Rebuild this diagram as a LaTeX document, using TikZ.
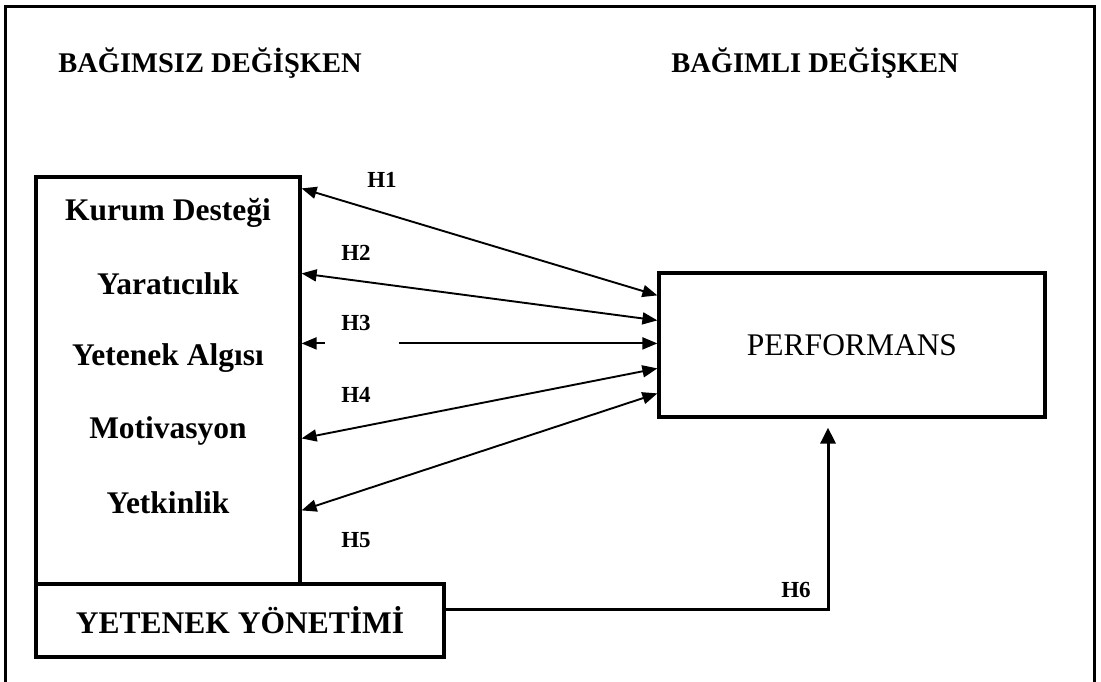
\documentclass[tikz,border=0pt]{standalone}
\usepackage{fontspec}
\setmainfont{Liberation Serif}
\usetikzlibrary{arrows.meta}
\begin{document}
\begin{tikzpicture}[x=1pt,y=-1pt,
  frame/.style={line width=3.2pt},
  box/.style={draw,line width=3.2pt,inner sep=0pt},
  varname/.style={font=\fontsize{31.5}{36}\selectfont\bfseries},
  heading/.style={font=\fontsize{28.5}{34}\selectfont\bfseries},
  hyp/.style={font=\fontsize{23}{28}\selectfont\bfseries},
  link/.style={line width=1.9pt,{Triangle[length=15pt,width=12pt]}-{Triangle[length=15pt,width=12pt]}},
  oneway/.style={line width=1.9pt,-{Triangle[length=15pt,width=12pt]}},
  effect/.style={line width=3pt,-{Triangle[length=16pt,width=15pt]}}]
\useasboundingbox (0,0) rectangle (1101,682);
\fill[white] (0,0) rectangle (1101,682);
% outer frame (open at the bottom)
\draw[frame] (5.5,682) -- (5.5,6.5) -- (1094.5,6.5) -- (1094.5,682);

% headings
\node[heading] (hl) at (210,63) {BAĞIMSIZ DEĞİŞKEN};
\node[heading] (hr) at (815,63) {BAĞIMLI DEĞİŞKEN};

% independent variables box
\node[box,minimum width=264pt,minimum height=407pt] (iv) at (168,380.5) {};
\node[varname] (v1) at (168,213) {Kurum Desteği};
\node[varname] (v2) at (168,284) {Yaratıcılık};
\node[varname] (v3) at (168,358) {Yetenek Algısı};
\node[varname] (v4) at (168,431) {Motivasyon};
\node[varname] (v5) at (168,503) {Yetkinlik};

% talent management box
\node[box,minimum width=408pt,minimum height=73pt,varname] (tm) at (240,620.5) {YETENEK YÖNETİMİ};

% dependent variable box
\node[box,minimum width=386pt,minimum height=144pt,font=\fontsize{31.5}{36}\selectfont] (dv) at (852,345) {PERFORMANS};

% hypotheses
\draw[link] ([yshift=-13pt]iv.north east) -- ([yshift=-24pt]dv.north west);
\draw[link] ([yshift=-98pt]iv.north east) -- ([yshift=-49pt]dv.north west);
\draw[oneway] ([xshift=23pt,yshift=-168pt]iv.north east) -- ([yshift=-168pt]iv.north east);
\draw[oneway] ([xshift=97pt,yshift=-168pt]iv.north east) -- ([yshift=-72pt]dv.north west);
\draw[link] ([yshift=-263pt]iv.north east) -- ([yshift=-97pt]dv.north west);
\draw[link] ([yshift=-335pt]iv.north east) -- ([yshift=-122pt]dv.north west);
\draw[effect,shorten >=9pt] ([yshift=11.5pt]tm.east) -| ([xshift=-24pt]dv.south);

\node[hyp] (h1) at (382,180) {H1};
\node[hyp] (h2) at (356,253) {H2};
\node[hyp] (h3) at (356,323) {H3};
\node[hyp] (h4) at (356,395) {H4};
\node[hyp] (h5) at (356,540) {H5};
\node[hyp] (h6) at (796,590) {H6};
\end{tikzpicture}
\end{document}
